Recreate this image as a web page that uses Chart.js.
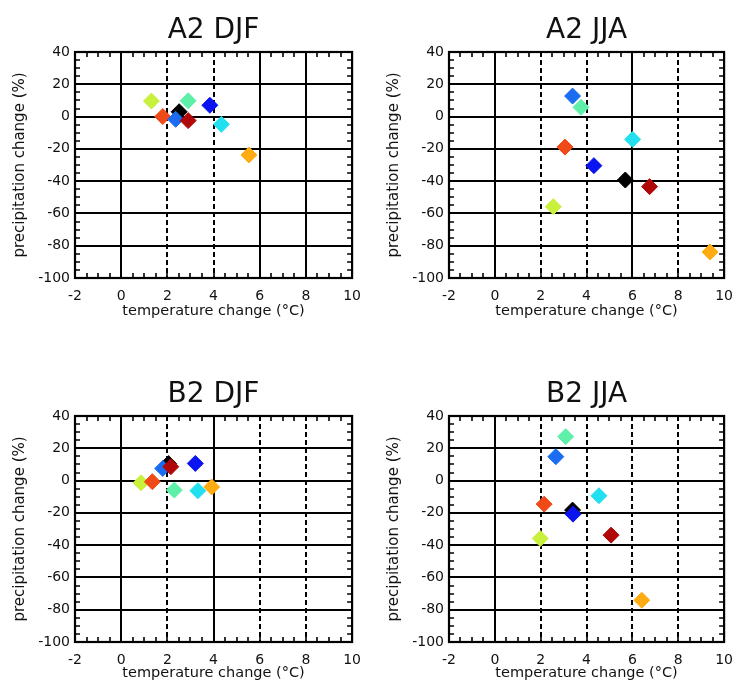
<!DOCTYPE html>
<html lang="en">
<head>
    <meta charset="UTF-8">
    <title>Temperature vs precipitation change</title>
    <script src="https://cdn.jsdelivr.net/npm/chart.js"></script>
    <style>
        body { margin: 0; background: #fff; width: 743px; height: 692px; overflow: hidden; position: relative; }
        canvas { position: absolute; }
    </style>
</head>
<body>
    <canvas id="a2djf" width="371" height="330" style="left:0;top:0"></canvas>
    <canvas id="a2jja" width="369" height="330" style="left:374px;top:0"></canvas>
    <canvas id="b2djf" width="371" height="328" style="left:0;top:364px"></canvas>
    <canvas id="b2jja" width="369" height="328" style="left:374px;top:364px"></canvas>

    <script>
        // models (same order in every panel; first one is drawn underneath)
        const models = ['M1', 'M2', 'M3', 'M4', 'M5', 'M6', 'M7', 'M8', 'M9'];
        const modelColors = ['#000000', '#c8f03c', '#f04a18', '#1a6cf0', '#b00808', '#5ef0a8', '#0a14f0', '#22e0f0', '#ffab12'];

        // tick labels
        const xTicks = [-2, 0, 2, 4, 6, 8, 10];
        const yTicks = [-100, -80, -60, -40, -20, 0, 20, 40];

        // temperature change (degC) / precipitation change (%)
        const a2djfTemp = [2.51, 1.31, 1.80, 2.36, 2.90, 2.90, 3.84, 4.34, 5.53];
        const a2djfPrec = [3.0, 9.6, 0.0, -1.7, -2.5, 9.8, 7.0, -4.8, -23.8];

        const a2jjaTemp = [5.69, 2.55, 3.06, 3.39, 6.75, 3.76, 4.32, 6.01, 9.39];
        const a2jjaPrec = [-39.3, -55.8, -18.9, 12.7, -43.4, 5.7, -30.4, -14.1, -83.9];

        const b2djfTemp = [2.05, 0.86, 1.35, 1.80, 2.15, 2.30, 3.21, 3.32, 3.92];
        const b2djfPrec = [10.5, -1.4, -0.7, 7.5, 8.6, -5.9, 10.6, -6.3, -4.0];

        const b2jjaTemp = [3.39, 1.98, 2.15, 2.66, 5.07, 3.09, 3.41, 4.54, 6.41];
        const b2jjaPrec = [-18.3, -35.9, -14.6, 14.8, -33.8, 27.2, -20.8, -9.4, -74.1];

        const fontFamily = 'DejaVu Sans';

        // box frame + small inward ticks on all four sides
        const framePlugin = {
            id: 'frame',
            beforeDatasetsDraw(chart) {
                const { ctx, chartArea: a, scales: { x, y } } = chart;
                ctx.save();
                ctx.strokeStyle = '#000';
                ctx.lineWidth = 1.6;
                ctx.beginPath();
                for (let v = x.min; v <= x.max; v += 0.5) {
                    const px = Math.round(x.getPixelForValue(v));
                    ctx.moveTo(px, a.top); ctx.lineTo(px, a.top + 5);
                    ctx.moveTo(px, a.bottom); ctx.lineTo(px, a.bottom - 5);
                }
                for (let v = y.min; v <= y.max; v += 5) {
                    const py = Math.round(y.getPixelForValue(v));
                    ctx.moveTo(a.left, py); ctx.lineTo(a.left + 5, py);
                    ctx.moveTo(a.right, py); ctx.lineTo(a.right - 5, py);
                }
                ctx.stroke();
                ctx.lineWidth = 2.2;
                ctx.strokeRect(a.left, a.top, a.right - a.left, a.bottom - a.top);
                ctx.restore();
            }
        };

        function makePanel(id, title, temps, precs, dashedX, bottomH) {
            new Chart(document.getElementById(id), {
                type: 'scatter',
                data: {
                    labels: models,
                    datasets: [{
                        data: temps.map((t, i) => ({ x: t, y: precs[i] })),
                        pointStyle: 'rectRot',
                        pointRadius: 8,
                        pointHoverRadius: 8,
                        pointBackgroundColor: modelColors,
                        pointBorderColor: modelColors,
                        pointBorderWidth: 1
                    }]
                },
                options: {
                    responsive: false,
                    animation: false,
                    events: [],
                    layout: { padding: { left: 0, right: 10, top: 0, bottom: 0 } },
                    plugins: {
                        legend: { display: false },
                        tooltip: { enabled: false },
                        title: {
                            display: true,
                            text: title,
                            fullSize: false,
                            color: '#111',
                            font: { family: fontFamily, size: 28, weight: 'normal' },
                            padding: { top: 14, bottom: 4.4 }
                        }
                    },
                    scales: {
                        x: {
                            type: 'linear',
                            min: xTicks[0],
                            max: xTicks[xTicks.length - 1],
                            afterBuildTicks: s => { s.ticks = xTicks.map(v => ({ value: v })); },
                            afterFit: s => { s.height = bottomH; },
                            ticks: { color: '#111', font: { family: fontFamily, size: 14 }, padding: 10, maxRotation: 0, autoSkip: false },
                            grid: { color: '#000', lineWidth: 2, drawTicks: false },
                            border: { display: false, dash: c => (c.tick && dashedX.includes(c.tick.value)) ? [5, 3] : [] },
                            title: {
                                display: true,
                                text: 'temperature change (°C)',
                                color: '#111',
                                font: { family: fontFamily, size: 14.5 },
                                padding: { top: 0, bottom: 9.6 }
                            }
                        },
                        y: {
                            type: 'linear',
                            min: yTicks[0],
                            max: yTicks[yTicks.length - 1],
                            afterBuildTicks: s => { s.ticks = yTicks.map(v => ({ value: v })); },
                            afterFit: s => { s.width = 75; },
                            ticks: { color: '#111', font: { family: fontFamily, size: 14 }, padding: 5 },
                            grid: { color: '#000', lineWidth: 2, drawTicks: false },
                            border: { display: false },
                            title: {
                                display: true,
                                text: 'precipitation change (%)',
                                color: '#111',
                                font: { family: fontFamily, size: 15 },
                                padding: { top: 11, bottom: 0 }
                            }
                        }
                    }
                },
                plugins: [framePlugin]
            });
        }

        makePanel('a2djf', 'A2 DJF', a2djfTemp, a2djfPrec, [2, 4], 52);
        makePanel('a2jja', 'A2 JJA', a2jjaTemp, a2jjaPrec, [2, 4, 8], 52);
        makePanel('b2djf', 'B2 DJF', b2djfTemp, b2djfPrec, [2, 6, 8], 50);
        makePanel('b2jja', 'B2 JJA', b2jjaTemp, b2jjaPrec, [2, 4, 6, 8], 50);
    </script>
</body>
</html>
